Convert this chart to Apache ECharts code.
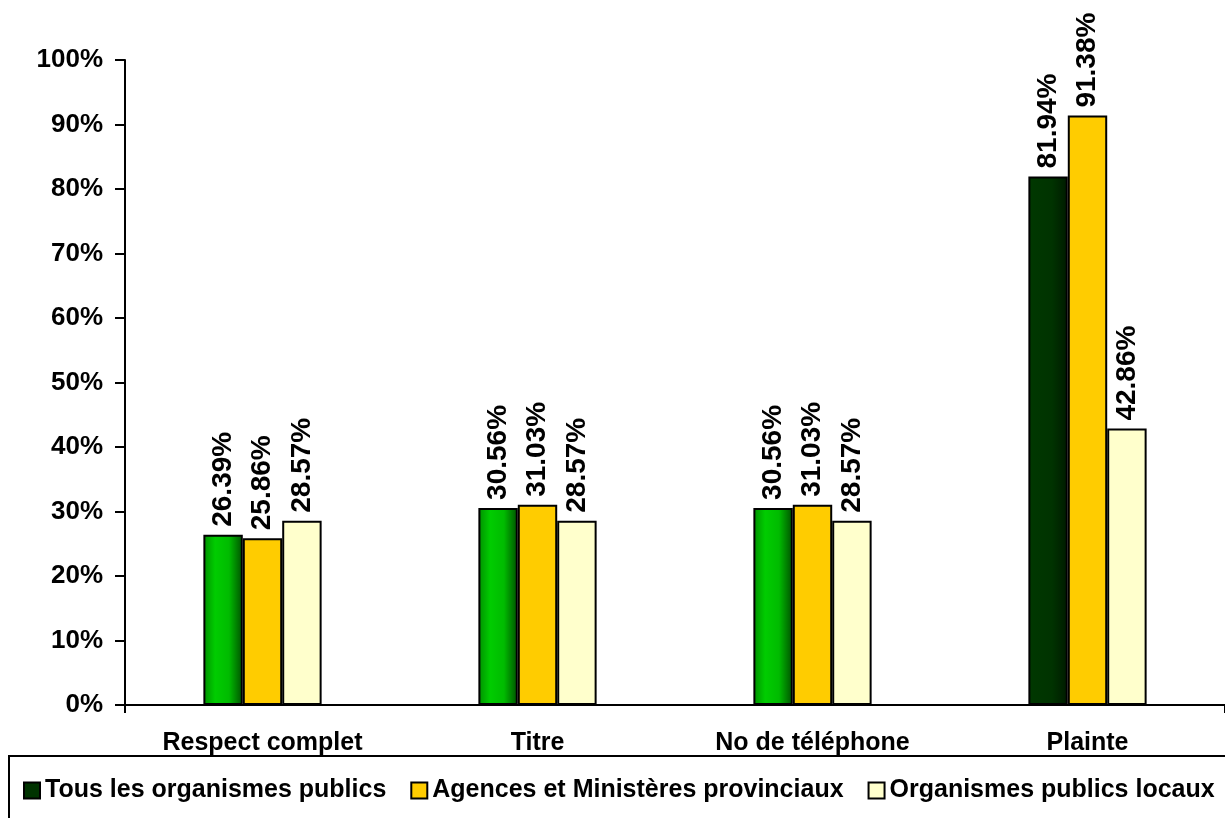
<!DOCTYPE html>
<html>
<head>
<meta charset="utf-8">
<script src="https://cdn.jsdelivr.net/npm/echarts@6/dist/echarts.min.js"></script>
<style>
  html, body { margin: 0; padding: 0; background: #fff; }
  #chart { width: 1225px; height: 818px; }
</style>
</head>
<body>
<div id="chart"></div>
<script>
const categories = ['Respect complet', 'Titre', 'No de téléphone', 'Plainte']
const seriesNames = ['Tous les organismes publics', 'Agences et Ministères provinciaux', 'Organismes publics locaux']
const tousValues = [26.39, 30.56, 30.56, 81.94]
const agencesValues = [25.86, 31.03, 31.03, 91.38]
const locauxValues = [28.57, 28.57, 28.57, 42.86]
const yTicks = [0, 10, 20, 30, 40, 50, 60, 70, 80, 90, 100]

const FONT = 'Arial, "Liberation Sans", sans-serif'

// bright green gradient used for the first three "Tous" bars
const greenGrad = new echarts.graphic.LinearGradient(0, 0, 1, 0, [
  { offset: 0, color: '#009000' },
  { offset: 0.3, color: '#00cc00' },
  { offset: 0.65, color: '#00bb00' },
  { offset: 1, color: '#005000' }
])
const darkGrad = new echarts.graphic.LinearGradient(0, 0, 1, 0, [
  { offset: 0, color: '#003800' },
  { offset: 0.6, color: '#003300' },
  { offset: 1, color: '#001a00' }
])

const label = {
  show: true,
  position: 'top',
  rotate: 90,
  align: 'left',
  verticalAlign: 'middle',
  distance: 8,
  color: '#000',
  fontFamily: FONT,
  fontWeight: 'bold',
  fontSize: 28,
  formatter: p => p.value.toFixed(2) + '%'
}
const barStyle = { borderColor: '#000', borderWidth: 2 }

const chart = echarts.init(document.getElementById('chart'))
chart.setOption({
  animation: false,
  textStyle: { fontFamily: FONT },
  grid: { left: 125, right: -5, top: 60, bottom: 113 },
  legend: {
    left: 23,
    top: 778,
    padding: 0,
    width: 1200,
    itemWidth: 16,
    itemHeight: 16,
    itemGap: 24,
    icon: 'rect',
    itemStyle: { borderColor: '#000', borderWidth: 2 },
    textStyle: { fontFamily: FONT, fontWeight: 'bold', fontSize: 25, color: '#000' },
    data: seriesNames
  },
  graphic: [{
    type: 'rect',
    shape: { x: 9, y: 756, width: 1240, height: 100 },
    style: { fill: 'none', stroke: '#000', lineWidth: 2 },
    z: -1
  }],
  xAxis: {
    type: 'category',
    data: categories,
    axisLine: { lineStyle: { color: '#000', width: 2 } },
    axisTick: { show: true, length: 8, interval: i => i === 0, lineStyle: { color: '#000', width: 2 } },
    axisLabel: { color: '#000', fontWeight: 'bold', fontSize: 25, margin: 26, fontFamily: FONT }
  },
  yAxis: {
    type: 'value',
    min: 0,
    max: 100,
    interval: 10,
    splitLine: { show: false },
    axisLine: { show: true, lineStyle: { color: '#000', width: 2 } },
    axisTick: { show: true, length: 10, lineStyle: { color: '#000', width: 2 } },
    axisLabel: {
      color: '#000', fontWeight: 'bold', fontSize: 26, margin: 22, fontFamily: FONT,
      formatter: v => yTicks.includes(v) ? v + '%' : ''
    }
  },
  series: [
    {
      name: seriesNames[0],
      type: 'bar',
      barGap: '0%',
      barCategoryGap: '57%',
      itemStyle: Object.assign({ color: '#003300' }, barStyle),
      label: label,
      data: tousValues.map((v, i) => ({
        value: v,
        itemStyle: { color: i < 3 ? greenGrad : darkGrad }
      }))
    },
    {
      name: seriesNames[1],
      type: 'bar',
      itemStyle: Object.assign({ color: '#ffcc00' }, barStyle),
      label: label,
      data: agencesValues
    },
    {
      name: seriesNames[2],
      type: 'bar',
      itemStyle: Object.assign({ color: '#ffffcc' }, barStyle),
      label: label,
      data: locauxValues
    }
  ]
})
</script>
</body>
</html>
